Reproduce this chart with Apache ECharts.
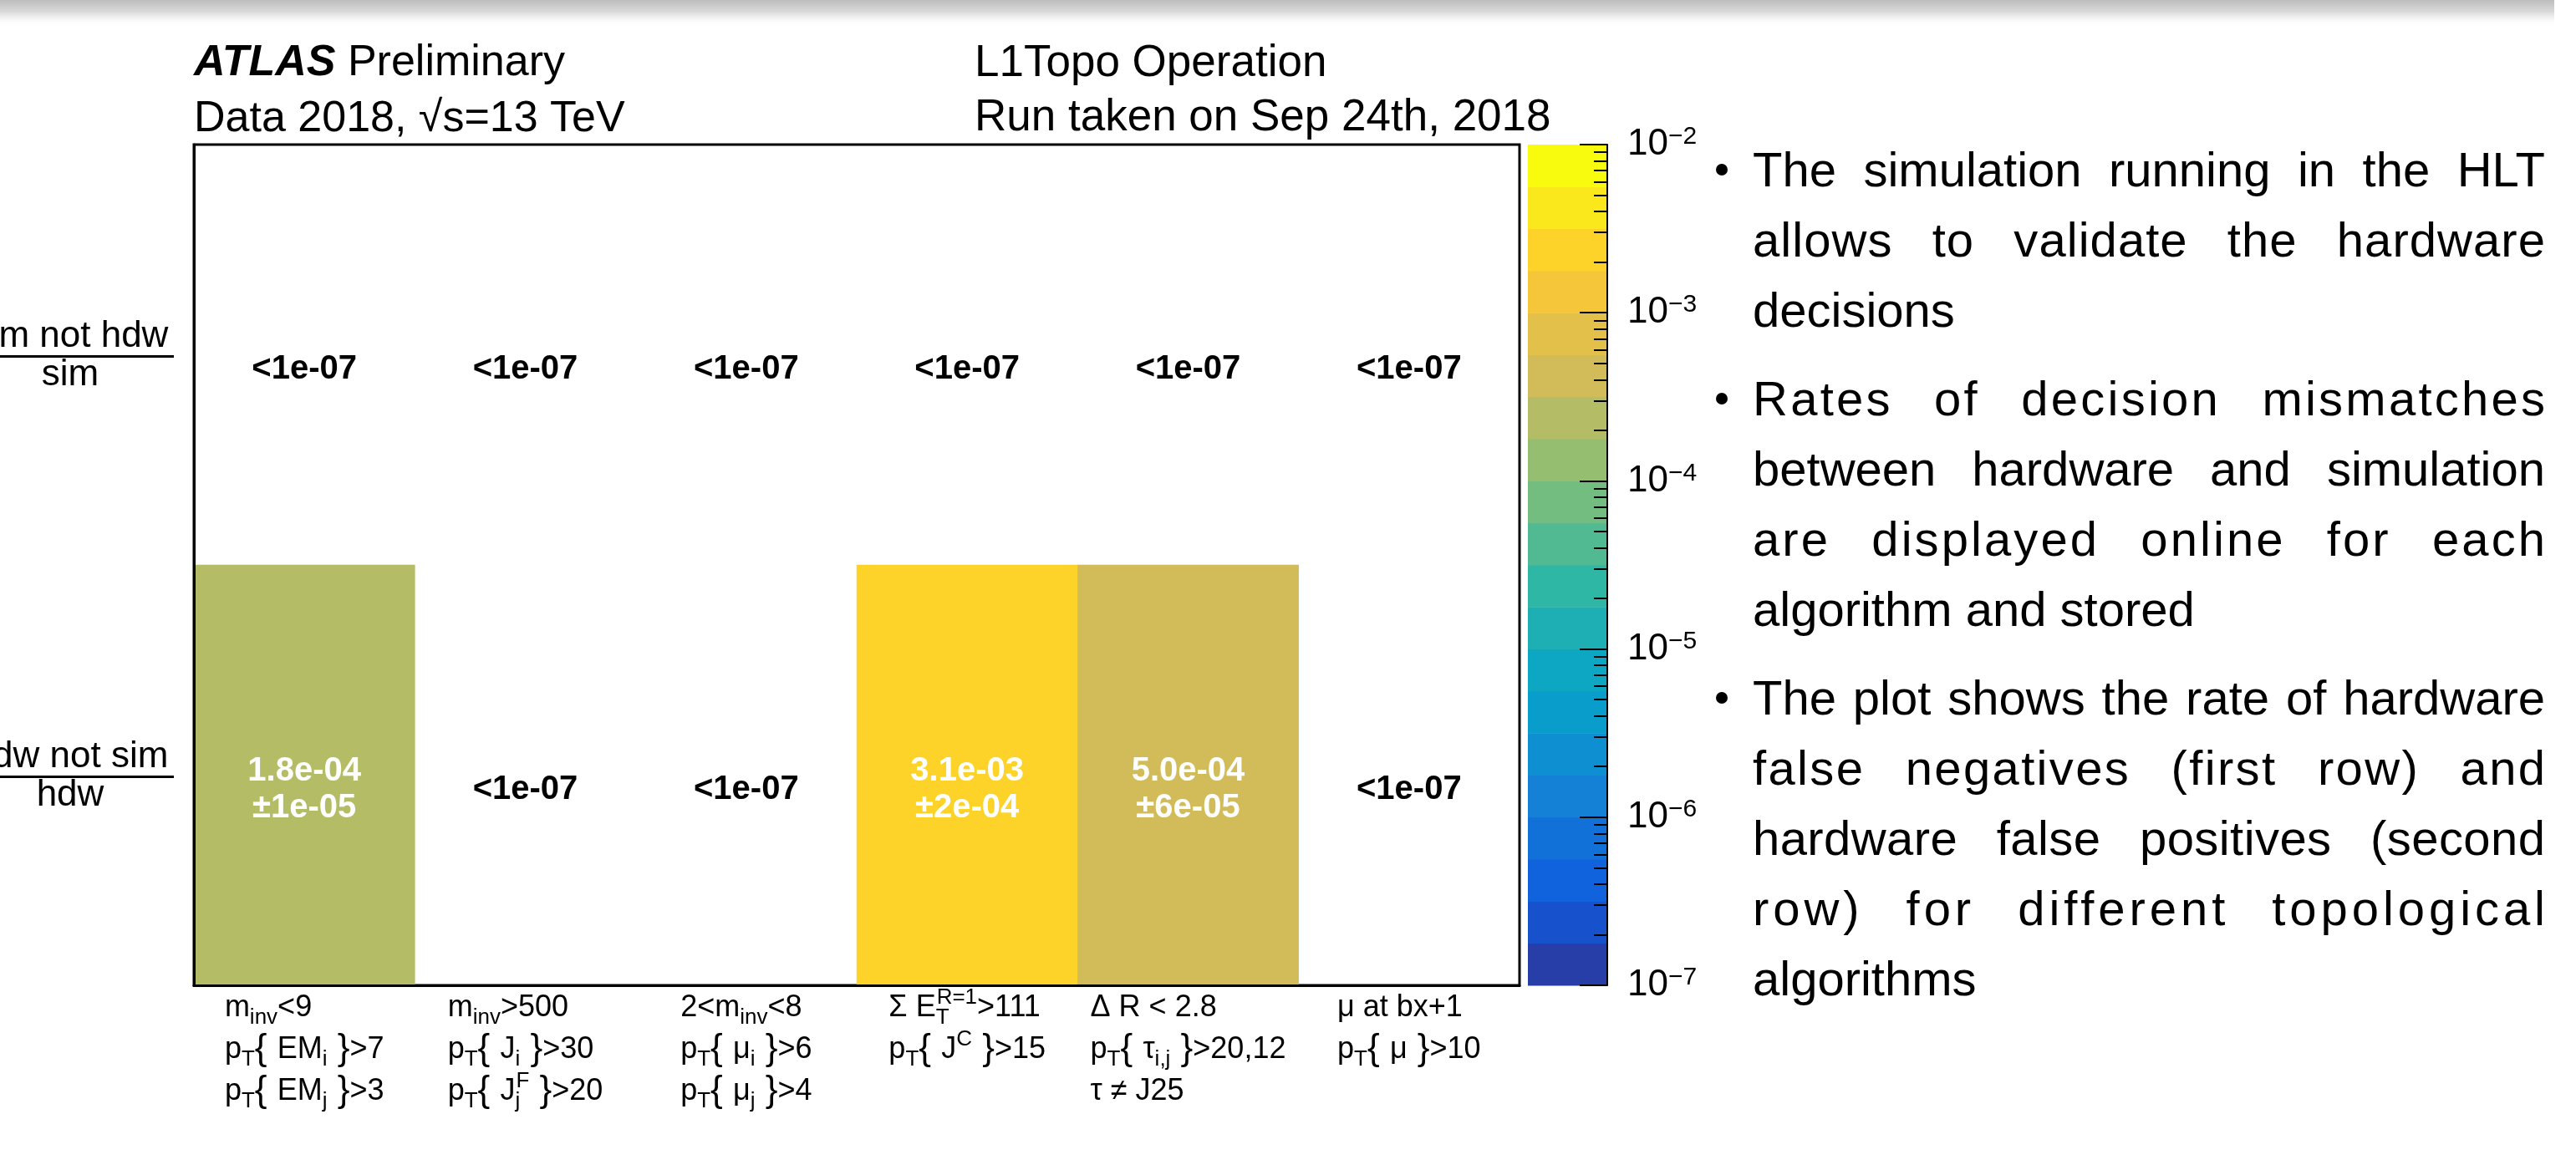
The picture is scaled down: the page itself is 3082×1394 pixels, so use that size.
<!DOCTYPE html>
<html>
<head>
<meta charset="utf-8">
<title>L1Topo decision mismatches</title>
<script src="https://cdn.jsdelivr.net/npm/echarts@6/dist/echarts.min.js"></script>
<style>
  html, body { margin: 0; padding: 0; background: #fff; }
  #wrap { position: relative; width: 3082px; height: 1394px; overflow: hidden; }
  #main { width: 3082px; height: 1394px; }
  #notes {
    position: absolute; left: 2097px; top: 161px; width: 948px;
    font-family: 'Liberation Sans', Arial, sans-serif; font-size: 58px; line-height: 84px; color: #000;
  }
  #notes .para { position: relative; margin-bottom: 22px; }
  #notes .para::before {
    content: ''; position: absolute; left: -44px; top: 35px;
    width: 14px; height: 14px; border-radius: 50%; background: #000;
  }
  #notes .ln { white-space: nowrap; }
  #notes .ln span { display: inline-block; white-space: nowrap; }
</style>
</head>
<body>
<div id="wrap">
  <div id="main"></div>
  <div id="notes">
    <div class="para">
      <div class="ln">The simulation running in the HLT</div>
      <div class="ln">allows to validate the hardware</div>
      <div class="ln last">decisions</div>
    </div>
    <div class="para">
      <div class="ln">Rates of decision mismatches</div>
      <div class="ln">between hardware and simulation</div>
      <div class="ln">are displayed online for each</div>
      <div class="ln last">algorithm and stored</div>
    </div>
    <div class="para">
      <div class="ln">The plot shows the rate of hardware</div>
      <div class="ln">false negatives (first row) and</div>
      <div class="ln">hardware false positives (second</div>
      <div class="ln">row) for different topological</div>
      <div class="ln last">algorithms</div>
    </div>
  </div>
</div>
<script>
// algorithm labels (x bins), one rich-text string per line
const algoLabels = [
  ['{t|m}{sub|inv}{t|<9}', '{t|p}{sub|T}{ {t|EM}{sub|i} }{t|>7}', '{t|p}{sub|T}{ {t|EM}{sub|j} }{t|>3}'],
  ['{t|m}{sub|inv}{t|>500}', '{t|p}{sub|T}{ {t|J}{sub|i} }{t|>30}', '{t|p}{sub|T}{ {t|J}{subz|j}{sup|F} }{t|>20}'],
  ['{t|2<m}{sub|inv}{t|<8}', '{t|p}{sub|T}{ {t|\u03bc}{sub|i} }{t|>6}', '{t|p}{sub|T}{ {t|\u03bc}{sub|j} }{t|>4}'],
  ['{t|\u03a3 E}{subz|T}{sup|R=1}{t|>111}', '{t|p}{sub|T}{ {t|J}{sup|C} }{t|>15}'],
  ['{t|\u0394 R < 2.8}', '{t|p}{sub|T}{ {t|\u03c4}{sub|i,j} }{t|>20,12}', '{t|\u03c4 \u2260 J25}'],
  ['{t|\u03bc at bx+1}', '{t|p}{sub|T}{ {t|\u03bc} }{t|>10}']
];
// rows (y bins), bottom to top
const rowNumerators = ['hdw not sim', 'sim not hdw'];
const rowDenominators = ['hdw', 'sim'];

// mismatch rates, 0 means below the z range (<1e-07)
const hdwNotSim = [1.8e-4, 0, 0, 3.1e-3, 5.0e-4, 0];
const hdwNotSimErr = [1e-5, 0, 0, 2e-4, 6e-5, 0];
const simNotHdw = [0, 0, 0, 0, 0, 0];
const simNotHdwErr = [0, 0, 0, 0, 0, 0];

// z axis: 20 contour levels, log10 of the edges
const zMin = 1e-7;
const zMax = 1e-2;
const levelExps = [-7, -6.75, -6.5, -6.25, -6, -5.75, -5.5, -5.25, -5, -4.75, -4.5,
                   -4.25, -4, -3.75, -3.5, -3.25, -3, -2.75, -2.5, -2.25, -2];
// kBird palette, lowest level first
const palette = ['#273da8', '#1751cb', '#1063dc', '#1271d9', '#1480d6', '#0e8fd1', '#099dcc',
                 '#0da7c3', '#1eafb4', '#2eb7a4', '#52ba92', '#74bd81', '#96be71', '#b4bd65',
                 '#d2bb59', '#e3c04a', '#f5c53a', '#fdd32a', '#fbe81c', '#f9fb0e'];

const FONT = 'Liberation Sans';

// justify the note lines: widen word gaps first, then letter spacing
document.querySelectorAll('#notes .ln').forEach(function (ln) {
  if (ln.classList.contains('last')) return;
  const txt = ln.textContent;
  ln.innerHTML = '<span>' + txt + '</span>';
  const span = ln.firstChild;
  const extra = ln.clientWidth - span.getBoundingClientRect().width;
  const nSpaces = txt.split(' ').length - 1;
  const maxGap = 30;
  let ws = extra / nSpaces;
  let ls = 0;
  if (ws > maxGap) {
    ws = maxGap;
    ls = (extra - maxGap * nSpaces) / (txt.length - 1);
  }
  span.style.wordSpacing = ws + 'px';
  span.style.letterSpacing = ls + 'px';
});

let chart = echarts.init(document.getElementById('main'));

let cells = [];
for (let i = 0; i < algoLabels.length; i++) {
  cells.push([i, 0, hdwNotSim[i]]);
  cells.push([i, 1, simNotHdw[i]]);
}

let pieces = [];
let bands = [];
for (let k = 0; k < palette.length; k++) {
  const lo = Math.pow(10, levelExps[k]);
  const hi = Math.pow(10, levelExps[k + 1]);
  pieces.push({ gte: lo, lt: hi, color: palette[k] });
  bands.push([0, lo, hi, k]);
}

// ROOT style exponent, e.g. 1.8e-04
function rootExp(v, digits) {
  return v.toExponential(digits).replace(/e([+-])(\d)$/, 'e$10$2');
}

// style of the x bin labels (zrender text style)
const xLabelStyle = {
  fontFamily: FONT, fontSize: 44, lineHeight: 50, fill: '#000',
  align: 'left', verticalAlign: 'top',
  rich: {
    t: { fontFamily: FONT, fontSize: 36, lineHeight: 50 },
    sub: { fontFamily: FONT, fontSize: 26, lineHeight: 28, verticalAlign: 'bottom' },
    subz: { fontFamily: FONT, fontSize: 26, lineHeight: 28, verticalAlign: 'bottom', width: 1 },
    sup: { fontFamily: FONT, fontSize: 26, lineHeight: 28, verticalAlign: 'top' }
  }
};
// block widths, so every label block is centred on its bin with its lines left aligned
const labelWidths = algoLabels.map(function (lines) {
  const txt = new echarts.graphic.Text({ style: Object.assign({ text: lines.join('\n') }, xLabelStyle) });
  return txt.getBoundingRect().width;
});

chart.setOption({
  animation: false,
  textStyle: { fontFamily: FONT },
  grid: [
    { left: 232, top: 173, width: 1586, height: 1006, show: true, borderColor: '#000', borderWidth: 3,
      backgroundColor: 'transparent', outerBoundsMode: 'none' },
    { left: 1828, top: 173, width: 95, height: 1006, outerBoundsMode: 'none' }
  ],
  xAxis: [
    {
      type: 'category', gridIndex: 0, z: 10,
      data: algoLabels.map(function (l) { return l.join('\n'); }),
      axisLine: { lineStyle: { color: '#000', width: 3 } },
      axisTick: { inside: true, length: 32, interval: 0, lineStyle: { color: '#000', width: 2 } },
      axisLabel: { show: false },
      splitLine: { show: false }
    },
    { type: 'value', gridIndex: 1, min: 0, max: 1, show: false }
  ],
  yAxis: [
    {
      type: 'category', gridIndex: 0, z: 10,
      data: rowNumerators,
      axisLine: { lineStyle: { color: '#000', width: 3 } },
      axisTick: { inside: true, length: 44, interval: 0, lineStyle: { color: '#000', width: 2 } },
      axisLabel: {
        interval: 0, margin: 148, align: 'center', color: '#000',
        formatter: function (val, idx) {
          return '{num|' + val + '}\n{bar|}\n{den|' + rowDenominators[idx] + '}';
        },
        rich: {
          num: { fontFamily: FONT, fontSize: 44, lineHeight: 44, color: '#000' },
          bar: { width: 248, height: 3, lineHeight: 4, backgroundColor: '#000' },
          den: { fontFamily: FONT, fontSize: 44, lineHeight: 40, color: '#000' }
        }
      },
      splitLine: { show: false }
    },
    {
      // colour scale of the z axis
      type: 'log', gridIndex: 1, position: 'right', z: 10,
      min: zMin, max: zMax, logBase: 10,
      axisLine: { show: true, onZero: false, lineStyle: { color: '#000', width: 2 } },
      axisTick: { show: true, inside: true, length: 33, lineStyle: { color: '#000', width: 2 } },
      minorTick: { show: true, splitNumber: 9, length: 16, lineStyle: { color: '#000', width: 2 } },
      axisLabel: {
        margin: 24, color: '#000',
        formatter: function (v) {
          return '{b|10}{s|\u2212' + Math.round(-Math.log10(v)) + '}';
        },
        rich: {
          b: { fontFamily: FONT, fontSize: 44, lineHeight: 48, color: '#000' },
          s: { fontFamily: FONT, fontSize: 30, lineHeight: 24, verticalAlign: 'top', color: '#000' }
        }
      },
      splitLine: { show: false }
    }
  ],
  visualMap: {
    type: 'piecewise', show: false, seriesIndex: 0, dimension: 2,
    pieces: pieces,
    outOfRange: { color: 'rgba(255,255,255,0)' }
  },
  graphic: [
    {
      type: 'rect', z: -10, silent: true,
      shape: { x: 0, y: 0, width: 3056, height: 32 },
      style: {
        fill: new echarts.graphic.LinearGradient(0, 0, 0, 1, [
          { offset: 0, color: '#bdbdbd' },
          { offset: 0.45, color: '#dadada' },
          { offset: 1, color: 'rgba(255,255,255,0)' }
        ])
      }
    },
    {
      type: 'text', x: 232, y: 76,
      style: {
        text: '{a|ATLAS} {b|Preliminary}', fontFamily: FONT, fontSize: 52, fill: '#000', verticalAlign: 'middle',
        rich: {
          a: { fontFamily: FONT, fontSize: 52, fontWeight: 'bold', fontStyle: 'italic' },
          b: { fontFamily: FONT, fontSize: 52 }
        }
      }
    },
    {
      type: 'text', x: 232, y: 143,
      style: { text: 'Data 2018, \u221as=13 TeV', fontFamily: FONT, fontSize: 52, fill: '#000', verticalAlign: 'middle' }
    },
    {
      type: 'text', x: 1166, y: 76,
      style: { text: 'L1Topo Operation', fontFamily: FONT, fontSize: 53, fill: '#000', verticalAlign: 'middle' }
    },
    {
      type: 'text', x: 1166, y: 141,
      style: { text: 'Run taken on Sep 24th, 2018', fontFamily: FONT, fontSize: 53, fill: '#000', verticalAlign: 'middle' }
    }
  ],
  series: [
    {
      type: 'heatmap', xAxisIndex: 0, yAxisIndex: 0, z: 2,
      data: cells,
      emphasis: { disabled: true },
      label: {
        show: true, offset: [0, 17],
        formatter: function (p) {
          const v = p.value[2];
          if (v < zMin) return '{lo|<1e-07}';
          const err = (p.value[1] === 0 ? hdwNotSimErr : simNotHdwErr)[p.value[0]];
          return '{hi|' + rootExp(v, 1) + '}\n{hi|\u00b1' + rootExp(err, 0) + '}';
        },
        rich: {
          lo: { fontFamily: FONT, fontSize: 40, fontWeight: 'bold', color: '#000' },
          hi: { fontFamily: FONT, fontSize: 40, fontWeight: 'bold', color: '#fff', lineHeight: 44 }
        }
      }
    },
    {
      // the colour bar
      type: 'custom', xAxisIndex: 1, yAxisIndex: 1, silent: true,
      data: bands,
      renderItem: function (params, api) {
        const p1 = api.coord([0, api.value(1)]);
        const p2 = api.coord([1, api.value(2)]);
        return {
          type: 'rect',
          shape: { x: p1[0], y: p2[1], width: p2[0] - p1[0], height: p1[1] - p2[1] + 0.5 },
          style: { fill: palette[api.value(3)] }
        };
      }
    },
    {
      // x bin labels below the frame
      type: 'custom', xAxisIndex: 0, yAxisIndex: 0, silent: true, clip: false,
      data: algoLabels.map(function (l, i) { return [i, 0]; }),
      renderItem: function (params, api) {
        const i = api.value(0);
        const cs = params.coordSys;
        const cx = api.coord([i, 0])[0];
        return {
          type: 'text',
          x: cx - labelWidths[i] / 2,
          y: cs.y + cs.height + 2,
          style: Object.assign({ text: algoLabels[i].join('\n') }, xLabelStyle)
        };
      }
    }
  ]
});

window.addEventListener('resize', function () {
  chart.resize();
});
</script>
</body>
</html>
